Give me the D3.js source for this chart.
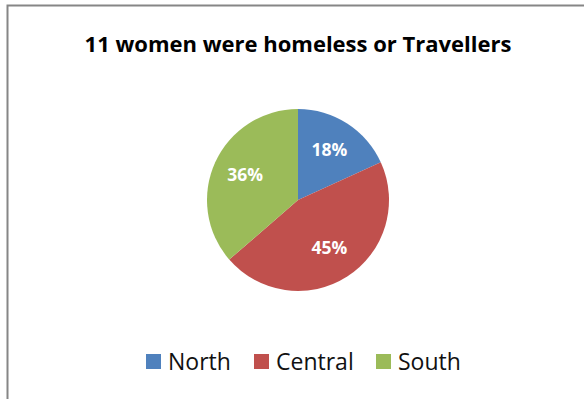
<!DOCTYPE html>
<html lang="en">
<head>
<meta charset="utf-8">
<title>Homeless or Travellers</title>
<script src="https://d3js.org/d3.v7.min.js"></script>
<style>
  body { margin: 0; background: #fff; }
  text { font-family: "Open Sans", Lato, sans-serif; }
</style>
</head>
<body>
<script>
// data
var regions = ["North", "Central", "South"];
var counts = [2, 5, 4];
var colours = ["#4F81BD", "#C0504D", "#9BBB59"];
var title = "11 women were homeless or Travellers";

var w = 584, h = 399;
var cx = 298, cy = 200, radius = 91;

var svg = d3.select("body").append("svg")
  .attr("width", w)
  .attr("height", h);

// chart frame (runs off the right and bottom edge)
svg.append("rect")
  .attr("x", 7.5).attr("y", 5.5)
  .attr("width", 700).attr("height", 500)
  .attr("fill", "#fff")
  .attr("stroke", "#868686")
  .attr("stroke-width", 2);

svg.append("text")
  .attr("x", 298).attr("y", 52)
  .attr("text-anchor", "middle")
  .attr("font-weight", "bold")
  .attr("font-size", 22)
  .attr("fill", "#000")
  .text(title);

var total = d3.sum(counts);
var colour = d3.scaleOrdinal().domain(regions).range(colours);

var pie = d3.pie().sort(null).value(function(d) { return d.v; });
var arcs = pie(regions.map(function(r, i) { return { name: r, v: counts[i] }; }));

var arc = d3.arc().innerRadius(0).outerRadius(radius);
var labelArc = d3.arc().innerRadius(radius * 0.64).outerRadius(radius * 0.64);

var g = svg.append("g").attr("transform", "translate(" + cx + "," + cy + ")");

g.selectAll("path")
  .data(arcs)
  .enter()
  .append("path")
  .attr("d", arc)
  .attr("fill", function(d) { return colour(d.data.name); });

g.selectAll("text")
  .data(arcs)
  .enter()
  .append("text")
  .attr("transform", function(d) { return "translate(" + labelArc.centroid(d) + ")"; })
  .attr("text-anchor", "middle")
  .attr("dy", "0.3em")
  .attr("fill", "#fff")
  .attr("font-weight", "bold")
  .attr("font-size", 17.5)
  .text(function(d) { return Math.round(d.data.v / total * 100) + "%"; });

// legend
var legendX = [146, 254, 376];
var legend = svg.selectAll(".legend")
  .data(regions)
  .enter()
  .append("g")
  .attr("class", "legend")
  .attr("transform", function(d, i) { return "translate(" + legendX[i] + ",354)"; });

legend.append("rect")
  .attr("width", 15).attr("height", 15)
  .attr("fill", function(d) { return colour(d); });

legend.append("text")
  .attr("x", 22).attr("y", 16)
  .attr("font-size", 23)
  .attr("fill", "#111")
  .text(function(d) { return d; });
</script>
</body>
</html>
